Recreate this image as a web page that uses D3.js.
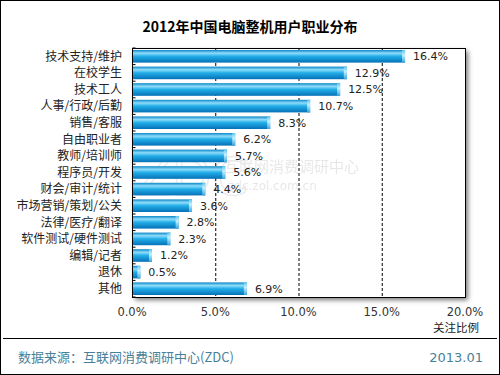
<!DOCTYPE html>
<html>
<head>
<meta charset="utf-8">
<script src="https://cdn.jsdelivr.net/npm/d3@7"></script>
<style>
  body { margin: 0; background: #fff; }
  text { font-family: "Noto Sans CJK SC", "DejaVu Sans", sans-serif; }
</style>
</head>
<body>
<div id="chart"></div>
<script>
// 职业类别
const categories = ["技术支持/维护", "在校学生", "技术工人", "人事/行政/后勤", "销售/客服",
  "自由职业者", "教师/培训师", "程序员/开发", "财会/审计/统计", "市场营销/策划/公关",
  "法律/医疗/翻译", "软件测试/硬件测试", "编辑/记者", "退休", "其他"];
const values = [16.4, 12.9, 12.5, 10.7, 8.3, 6.2, 5.7, 5.6, 4.4, 3.6, 2.8, 2.3, 1.2, 0.5, 6.9];
const tickValues = [0, 5, 10, 15, 20];

const width = 500, height = 375;
const plotLeft = 132, plotRight = 465, plotTop = 48, plotBottom = 297;

const svg = d3.select('#chart').append('svg')
  .attr('width', width)
  .attr('height', height);

// gradients for the bars
const defs = svg.append('defs');
const grad = defs.append('linearGradient').attr('id', 'barGrad')
  .attr('x1', 0).attr('y1', 0).attr('x2', 0).attr('y2', 1);
grad.append('stop').attr('offset', '0%').attr('stop-color', '#0a86c8');
grad.append('stop').attr('offset', '25%').attr('stop-color', '#8fdcfa');
grad.append('stop').attr('offset', '50%').attr('stop-color', '#22aee8');
grad.append('stop').attr('offset', '100%').attr('stop-color', '#0570b8');
const capGrad = defs.append('linearGradient').attr('id', 'capGrad')
  .attr('x1', 0).attr('y1', 0).attr('x2', 0).attr('y2', 1);
capGrad.append('stop').attr('offset', '0%').attr('stop-color', '#5cc8f2');
capGrad.append('stop').attr('offset', '40%').attr('stop-color', '#c8f0ff');
capGrad.append('stop').attr('offset', '100%').attr('stop-color', '#3aa8e0');
const shadow = defs.append('filter').attr('id', 'shadow')
  .attr('x', '-5%').attr('y', '-5%').attr('width', '115%').attr('height', '115%');
shadow.append('feGaussianBlur').attr('stdDeviation', 2.5);

// outer frame
svg.append('rect').attr('x', 0.5).attr('y', 0.5).attr('width', width - 1).attr('height', height - 1)
  .attr('fill', 'none').attr('stroke', '#000');

// title
svg.append('text')
  .attr('x', 250).attr('y', 32)
  .attr('text-anchor', 'middle')
  .style('font-size', '14px').style('font-weight', 'bold')
  .text('2012年中国电脑整机用户职业分布');

const x = d3.scaleLinear().domain([0, 20]).range([plotLeft, plotRight]);
const y = d3.scaleBand().domain(categories).range([plotTop, plotBottom]).paddingInner(0.24).paddingOuter(0.12);

// plot shadow + background
svg.append('rect').attr('x', plotLeft + 3).attr('y', plotTop + 3)
  .attr('width', plotRight - plotLeft).attr('height', plotBottom - plotTop)
  .attr('fill', '#777').attr('filter', 'url(#shadow)');
svg.append('rect').attr('x', plotLeft).attr('y', plotTop)
  .attr('width', plotRight - plotLeft).attr('height', plotBottom - plotTop)
  .attr('fill', '#fff');

// watermark
const wm = svg.append('g').attr('opacity', 0.35);
wm.append('text').attr('x', 136).attr('y', 195)
  .style('font-size', '52px').style('font-family', 'DejaVu Sans')
  .attr('fill', 'none').attr('stroke', '#c8c8c8').attr('stroke-width', 1.5)
  .text('ZDC');
wm.append('text').attr('x', 224).attr('y', 172)
  .style('font-size', '15px').attr('fill', '#bbb').text('互联网消费调研中心');
wm.append('text').attr('x', 228).attr('y', 190)
  .style('font-size', '12px').style('font-family', 'DejaVu Sans')
  .attr('fill', '#bbb').text('zdc.zol.com.cn');

// dashed grid
svg.append('g').selectAll('line')
  .data(tickValues.filter(d => d > 0 && d < 20))
  .enter().append('line')
  .attr('x1', d => x(d) + 0.5).attr('x2', d => x(d) + 0.5)
  .attr('y1', plotTop).attr('y2', plotBottom)
  .attr('stroke', '#000').attr('stroke-width', 1).attr('stroke-dasharray', '3,2');

// bars
const bars = svg.append('g').selectAll('g')
  .data(values)
  .enter().append('g');
bars.append('rect')
  .attr('x', plotLeft + 1)
  .attr('y', (d, i) => y(categories[i]))
  .attr('width', d => x(d) - plotLeft - 1)
  .attr('height', y.bandwidth())
  .attr('fill', 'url(#barGrad)');
bars.append('rect')
  .attr('x', d => x(d) - 3)
  .attr('y', (d, i) => y(categories[i]))
  .attr('width', 3)
  .attr('height', y.bandwidth())
  .attr('fill', 'url(#capGrad)');
bars.append('text')
  .attr('x', d => x(d) + 8)
  .attr('y', (d, i) => y(categories[i]) + y.bandwidth() / 2)
  .attr('dy', '0.35em')
  .style('font-size', '11px').style('font-family', 'DejaVu Sans')
  .attr('fill', '#222')
  .text(d => d.toFixed(1) + '%');

// plot frame
svg.append('rect').attr('x', plotLeft + 0.5).attr('y', plotTop + 0.5)
  .attr('width', plotRight - plotLeft).attr('height', plotBottom - plotTop)
  .attr('fill', 'none').attr('stroke', '#000');

// y axis with inward ticks
const yAxis = svg.append('g').attr('transform', `translate(${plotLeft + 0.5},0)`);
yAxis.selectAll('line')
  .data(d3.range(categories.length + 1))
  .enter().append('line')
  .attr('x1', 0).attr('x2', 3)
  .attr('y1', i => plotTop + i * (plotBottom - plotTop) / categories.length)
  .attr('y2', i => plotTop + i * (plotBottom - plotTop) / categories.length)
  .attr('stroke', '#000');
svg.append('g').selectAll('text')
  .data(categories)
  .enter().append('text')
  .attr('x', plotLeft - 10)
  .attr('y', d => y(d) + y.bandwidth() / 2)
  .attr('dy', '0.35em')
  .attr('text-anchor', 'end')
  .style('font-size', '12px')
  .attr('fill', '#222')
  .text(d => d);

// x tick labels
svg.append('g').selectAll('text')
  .data(tickValues)
  .enter().append('text')
  .attr('x', d => x(d))
  .attr('y', 316)
  .attr('text-anchor', 'middle')
  .style('font-size', '11.5px').style('font-family', 'DejaVu Sans')
  .attr('fill', '#333')
  .text(d => d.toFixed(1) + '%');
svg.append('text')
  .attr('x', 479).attr('y', 332)
  .attr('text-anchor', 'end')
  .style('font-size', '11.5px')
  .attr('fill', '#222')
  .text('关注比例');

// footer
svg.append('line').attr('x1', 3).attr('x2', 497).attr('y1', 338.5).attr('y2', 338.5)
  .attr('stroke', '#000');
svg.append('text')
  .attr('x', 18).attr('y', 362)
  .style('font-size', '13px')
  .attr('fill', '#4a7f9a')
  .text('数据来源：互联网消费调研中心(ZDC)');
svg.append('text')
  .attr('x', 483).attr('y', 362)
  .attr('text-anchor', 'end')
  .style('font-size', '13px').style('font-family', 'DejaVu Sans')
  .attr('fill', '#4a7f9a')
  .text('2013.01');
</script>
</body>
</html>
